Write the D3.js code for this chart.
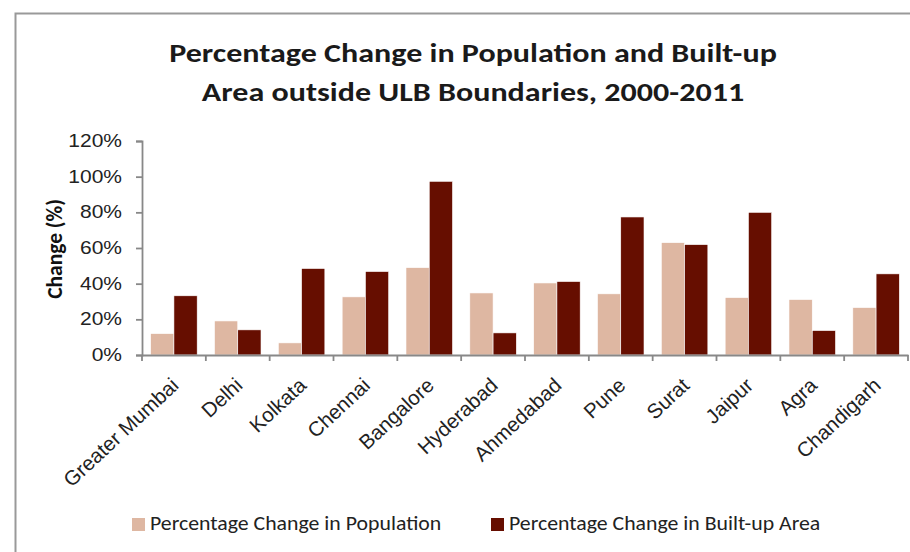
<!DOCTYPE html>
<html>
<head>
<meta charset="utf-8">
<script src="https://cdn.jsdelivr.net/npm/d3@7"></script>
<style>
  body { margin: 0; background: #fff; }
  svg { display: block; font-family: Carlito, Lato, "Open Sans", sans-serif; }
</style>
</head>
<body>
<svg id="chart"></svg>
<script>
const cities = ["Greater Mumbai", "Delhi", "Kolkata", "Chennai", "Bangalore", "Hyderabad",
  "Ahmedabad", "Pune", "Surat", "Jaipur", "Agra", "Chandigarh"];
const populationChange = [12.0, 19.1, 6.8, 32.6, 49.0, 34.8, 40.4, 34.3, 63.0, 32.2, 31.1, 26.6];
const builtUpChange = [33.2, 14.1, 48.5, 46.8, 97.4, 12.4, 41.2, 77.4, 61.9, 80.0, 13.7, 45.5];
const seriesNames = ["Percentage Change in Population", "Percentage Change in Built-up Area"];
const seriesColors = ["#DEB7A2", "#660E00"];
const yTicks = [0, 20, 40, 60, 80, 100, 120];

function getChartConfig() {
  const dimensions = {
    width: 910,
    height: 552,
    margin: { top: 141, bottom: 197, left: 142, right: 2 }
  };
  const chart = d3.select("#chart")
    .attr("width", dimensions.width)
    .attr("height", dimensions.height);
  return {
    dimensions,
    container: chart,
    chartDimensions: {
      width: dimensions.width - dimensions.margin.left - dimensions.margin.right,
      height: dimensions.height - dimensions.margin.top - dimensions.margin.bottom
    }
  };
}

function getScales(config) {
  const xScale = d3.scaleBand()
    .range([0, config.chartDimensions.width])
    .domain(cities)
    .paddingInner(0)
    .paddingOuter(0);
  const inner = d3.scaleBand()
    .domain([0, 1])
    .range([0, xScale.bandwidth()])
    .paddingInner(0)
    .paddingOuter(0.372);
  const yScale = d3.scaleLinear()
    .range([config.chartDimensions.height, 0])
    .domain([0, 120]);
  return { xScale, inner, yScale };
}

// text in the reference is wider than the font, so stretch it sideways
function stretchedText(parent, x, y, sx, str) {
  return parent.append("text")
    .attr("transform", `translate(${x},${y}) scale(${sx},1)`)
    .text(str);
}

function drawFrame(config) {
  // outer chart border, runs off the right and bottom edges
  config.container.append("rect")
    .attr("x", 15.5).attr("y", 13.5)
    .attr("width", 1000).attr("height", 1000)
    .attr("fill", "none")
    .attr("stroke", "#999")
    .attr("stroke-width", 2);
}

function drawTitle(config) {
  const g = config.container.append("g")
    .attr("text-anchor", "middle")
    .attr("font-weight", "bold")
    .attr("font-size", 26.5)
    .attr("fill", "#1a1a1a");
  stretchedText(g, 473, 62, 1.21, "Percentage Change in Population and Built-up");
  stretchedText(g, 473, 101, 1.21, "Area outside ULB Boundaries, 2000-2011");
}

function drawAxes(config, scales) {
  const { xScale, yScale } = scales;
  const { margin } = config.dimensions;

  const axisY = d3.axisLeft(yScale)
    .tickValues(yTicks)
    .tickSize(6)
    .tickFormat("");
  const gy = config.container.append("g")
    .attr("transform", `translate(${margin.left},${margin.top})`)
    .call(axisY);
  gy.selectAll(".tick").each(function (d) {
    stretchedText(d3.select(this), -20, 5.6, 1.2, d + "%")
      .attr("text-anchor", "end")
      .attr("font-size", 17.5)
      .attr("fill", "#222")
      .attr("font-family", "inherit");
  });

  const axisX = d3.axisBottom(xScale).tickSize(0).tickFormat("");
  const gx = config.container.append("g")
    .attr("transform", `translate(${margin.left},${margin.top + config.chartDimensions.height})`)
    .call(axisX);
  gx.selectAll(".tick").remove();

  // category boundary ticks
  const edges = cities.map(c => xScale(c)).concat([config.chartDimensions.width]);
  gx.selectAll(".edge").data(edges).enter().append("line")
    .attr("x1", d => d).attr("x2", d => d)
    .attr("y1", 0).attr("y2", 6)
    .attr("stroke", "#888").attr("stroke-width", 1.8);

  gx.selectAll(".lbl").data(cities).enter().append("text")
    .attr("text-anchor", "end")
    .attr("font-size", 20.5)
    .attr("fill", "#222")
    .attr("transform", d => `translate(${xScale(d) + xScale.bandwidth() / 2 + 6},${32})rotate(-43)`)
    .text(d => d);

  [gx, gy].forEach(g => {
    g.selectAll(".domain, .tick line").attr("stroke", "#888").attr("stroke-width", 1.8);
  });

  config.container.append("text")
    .attr("text-anchor", "middle")
    .attr("font-weight", "bold")
    .attr("font-size", 21.5)
    .attr("fill", "#111")
    .attr("transform", `translate(61.5,249)rotate(-90)scale(1,1.05)`)
    .text("Change (%)");
}

function drawBars(config, scales) {
  const { xScale, inner, yScale } = scales;
  const { margin } = config.dimensions;
  const barArea = config.container.append("g")
    .attr("transform", `translate(${margin.left},${margin.top})`);
  [populationChange, builtUpChange].forEach((values, s) => {
    barArea.selectAll(".bar-" + s)
      .data(values)
      .enter()
      .append("rect")
      .attr("x", (d, i) => xScale(cities[i]) + inner(s))
      .attr("y", d => yScale(d))
      .attr("width", inner.bandwidth())
      .attr("height", d => yScale(0) - yScale(d))
      .attr("fill", seriesColors[s])
      .attr("stroke", "#fff")
      .attr("stroke-width", 0.6);
  });
}

function drawLegend(config) {
  const positions = [132, 491];
  const lg = config.container.append("g")
    .attr("font-size", 20)
    .attr("fill", "#222");
  seriesNames.forEach((name, i) => {
    lg.append("rect")
      .attr("x", positions[i]).attr("y", 518)
      .attr("width", 13).attr("height", 13)
      .attr("fill", seriesColors[i]);
    stretchedText(lg, positions[i] + 18, 530, 1.09, name);
  });
}

function render() {
  const config = getChartConfig();
  const scales = getScales(config);
  drawFrame(config);
  drawTitle(config);
  drawBars(config, scales);
  drawAxes(config, scales);
  drawLegend(config);
}

render();
</script>
</body>
</html>
